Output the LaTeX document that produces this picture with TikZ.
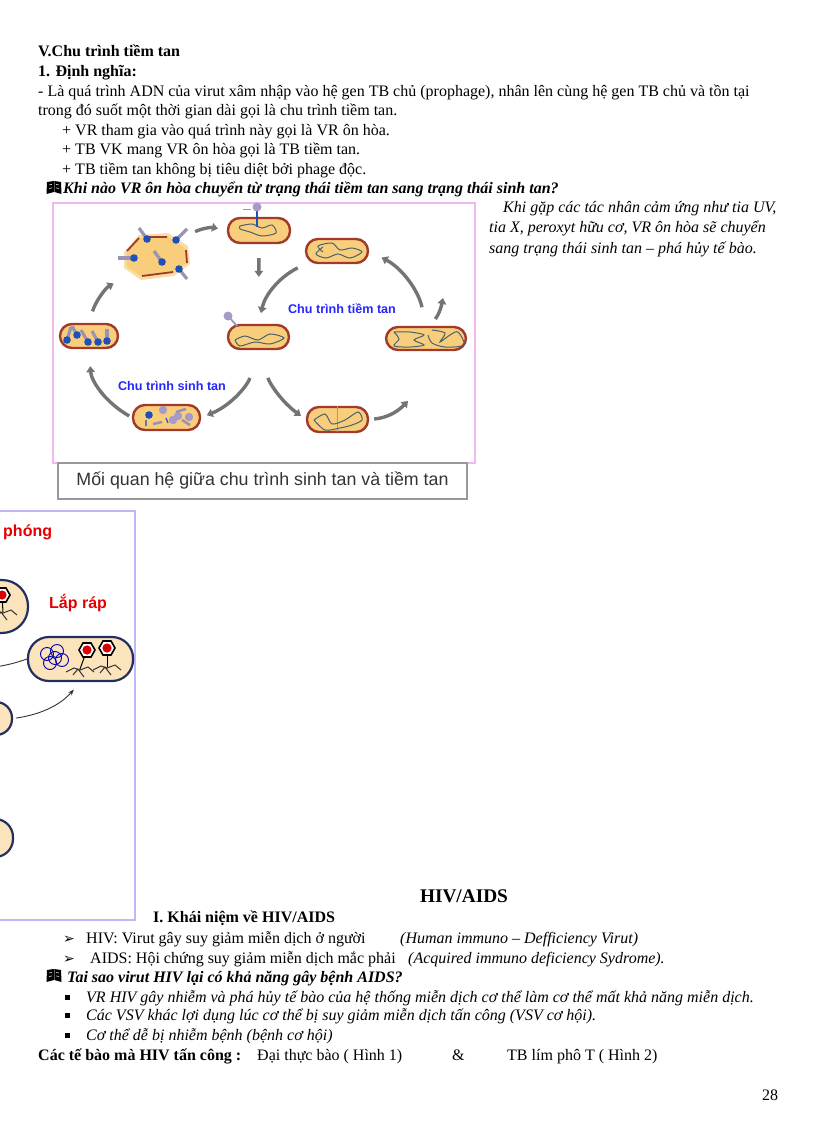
\documentclass[tikz,border=0pt]{standalone}
\usepackage{fontspec}
\setmainfont{Liberation Serif}
\newfontfamily\arialfont{Liberation Sans}
\newfontfamily\dejavufont{DejaVu Sans}
\usetikzlibrary{arrows.meta}
\definecolor{cellfill}{HTML}{F8CE7C}
\definecolor{cellred}{HTML}{A23A2A}
\definecolor{arrowgray}{HTML}{737474}
\definecolor{stemgray}{HTML}{9A94B4}
\definecolor{headblue}{HTML}{1F4FB8}
\definecolor{headlilac}{HTML}{A89AC8}
\definecolor{paleskin}{HTML}{FBE3BC}
\definecolor{navyedge}{HTML}{23305F}
\definecolor{framepink}{HTML}{F0B8F0}
\definecolor{framelilac}{HTML}{BDB8F6}
\tikzset{
  txt/.style={anchor=base west,inner sep=0pt,font=\fontsize{16}{18}\selectfont},
  btxt/.style={txt,font=\fontsize{16}{18}\selectfont\bfseries},
  itxt/.style={txt,font=\fontsize{16}{18}\selectfont\itshape},
  bitxt/.style={txt,font=\fontsize{16}{18}\selectfont\bfseries\itshape},
  cell/.style={draw=cellred,fill=cellfill,line width=2.4pt,rounded corners=12pt,inner sep=0pt},
  bigcell/.style={draw=navyedge,fill=paleskin,line width=2.2pt,rounded corners=21pt,inner sep=0pt},
  dna/.style={draw=black!65!cyan,line width=1pt,smooth},
  cyc/.style={draw=arrowgray,line width=3.4pt,-{Triangle[length=6pt,width=8.5pt]}},
  figlabel/.style={inner sep=0pt,text=blue!85!white,font=\arialfont\fontsize{12.6}{14}\selectfont\bfseries},
  redlabel/.style={inner sep=0pt,text=red!90!black,font=\arialfont\fontsize{16}{18}\selectfont\bfseries}
}
\begin{document}
\begin{tikzpicture}[x=1pt,y=-1pt]
\useasboundingbox (0,0) rectangle (816,1123);
\fill[white] (0,0) rectangle (816,1123);
\clip (0,0) rectangle (816,1123);
% text above the figures
\node[btxt] (line1) at (38,57) {V.Chu trình tiềm tan};
\node[btxt] (line2) at (38,77) {1. Định nghĩa:};
\node[txt] (line3) at (38,97) {- Là quá trình ADN của virut xâm nhập vào hệ gen TB chủ (prophage), nhân lên cùng hệ gen TB chủ và tồn tại};
\node[txt] (line4) at (38,116) {trong đó suốt một thời gian dài gọi là chu trình tiềm tan.};
\node[txt] (line5) at (62,136) {+ VR tham gia vào quá trình này gọi là VR ôn hòa.};
\node[txt] (line6) at (62,155) {+ TB VK mang VR ôn hòa gọi là TB tiềm tan.};
\node[txt] (line7) at (62,175) {+ TB tiềm tan không bị tiêu diệt bởi phage độc.};
\node[bitxt] (line8) at (63,194) {Khi nào VR ôn hòa chuyển từ trạng thái tiềm tan sang trạng thái sinh tan?};
\node[itxt] (side1) at (503,213) {Khi gặp các tác nhân cảm ứng như tia UV,};
\node[itxt] (side2) at (489,233) {tia X, peroxyt hữu cơ, VR ôn hòa sẽ chuyển};
\node[itxt] (side3) at (489,253) {sang trạng thái sinh tan -- phá hủy tế bào.};
% open book marks
\foreach \bx/\by in {47/181,47/969}{
  \fill[black] (\bx,\by+1) -- (\bx+6.8,\by) -- (\bx+6.8,\by+11) -- (\bx-.5,\by+13) -- cycle;
  \fill[black] (\bx+14,\by+1) -- (\bx+7.4,\by) -- (\bx+7.4,\by+11) -- (\bx+14.5,\by+13) -- cycle;
  \draw[white,line width=.5pt] (\bx+2,\by+4) -- (\bx+5,\by+3.4) (\bx+2,\by+7.5) -- (\bx+5,\by+6.9)
    (\bx+12,\by+4) -- (\bx+9,\by+3.4) (\bx+12,\by+7.5) -- (\bx+9,\by+6.9);
}
% first figure
\draw[draw=framepink,line width=1.4pt] (53,203) rectangle (475,463);
\node[draw=black!40,line width=1.2pt,minimum width=409,minimum height=36,inner sep=0pt,font=\arialfont\fontsize{17.8}{21}\selectfont,text=black!80] (caption) at (262.5,481) {Mối quan hệ giữa chu trình sinh tan và tiềm tan};
\node[cell,minimum width=62,minimum height=25] (celltop) at (259,230.5) {};
\node[cell,minimum width=62,minimum height=24] (cellupper) at (337,251) {};
\node[cell,minimum width=80,minimum height=23] (celldouble) at (426,338.5) {};
\node[cell,minimum width=61,minimum height=24] (cellcenter) at (258.5,337) {};
\node[cell,minimum width=58,minimum height=24] (cellleft) at (89,336) {};
\node[cell,minimum width=67,minimum height=25] (cellbl) at (166.5,417.5) {};
\node[cell,minimum width=61,minimum height=25] (cellbr) at (337.5,419.5) {};
\node[minimum width=60,minimum height=40,inner sep=0pt] (burst) at (157,256) {};
\coordinate (freeup) at (443,298);
\coordinate (freeright) at (408,401);
% burst cell
\fill[cellfill!70!white] (124,252) -- (139,235) -- (168,233) -- (188,246) -- (190,264) -- (174,276) -- (141,280) -- (124,268) -- cycle;
\fill[cellfill] (127,251) -- (139,238) -- (167,236) -- (185,248) -- (187,263) -- (173,273) -- (142,277) -- (127,267) -- cycle;
\draw[cellred,line width=1.8pt] (127,251) -- (139,238) (147,237) -- (167,237) (186,250) -- (187,263) (173,272) -- (142,276);
% phages in the burst and the crowded cell
\foreach \ax/\ay/\bx/\by in {147/239/139/228,176/240/187/229,134/258/118/258,162/262/154/251,179/269/187/279,
  67/340/71/327,77/335/72/326,88/342/81/330,98/342/92/331,107/341/107/329}{
  \draw[stemgray,line width=3.2pt] (\ax,\ay) -- (\bx,\by);
  \fill[headblue] (\ax,\ay) circle (3.8pt);
}
% phages at the two cells
\draw[headblue,line width=1.4pt] (257,207) -- (257,227);
\draw[stemgray,line width=.8pt] (243,209) -- (251,209);
\fill[headlilac] (257,207) circle (4.5pt);
\draw[stemgray,line width=1.8pt] (228,316) -- (237,326);
\fill[headlilac] (228,316) circle (4.5pt);
% bacterial chromosomes
\draw[dna] plot coordinates {(240,226) (252,224) (262,228) (272,225) (276,233) (262,236) (250,232) (240,229) (240,226)};
\draw[dna] plot coordinates {(323,252) (318,246) (332,243) (340,250) (352,248) (362,252) (350,258) (338,254) (326,258) (316,254) (323,247)};
\draw[dna] plot coordinates {(394,332) (410,332) (424,335) (414,340) (424,345) (410,347) (394,346) (399,339) (394,332)};
\draw[dna] plot coordinates {(432,330) (445,333) (440,342) (450,335) (458,332) (464,345) (445,347) (432,343) (428,335)};
\draw[dna] plot coordinates {(235,340) (245,336) (258,340) (270,334) (284,338) (270,344) (255,342) (240,346) (235,340)};
\draw[cellred!30!cellfill!90!black,line width=.6pt] (337,406) -- (337,432);
\draw[dna] plot coordinates {(314,420) (325,414) (332,424) (345,420) (358,412) (362,420) (352,425) (340,428) (325,430) (314,420)};
\foreach \hx/\hy in {163/410,173/420,189/417,178/416}{
  \fill[headlilac] (\hx,\hy) circle (4.2pt);
}
\fill[headblue] (149,415) circle (3.8pt);
\draw[stemgray,line width=2.6pt] (176,412) -- (186,409) (182,420) -- (190,425) (153,424) -- (162,422);
\draw[headblue,line width=1.2pt] (146,420) -- (146,426) (166,418) -- (168,423);
% cycle arrows
\draw[cyc,shorten <=9pt,shorten >=9pt] (burst.north east) to[bend left=20] (celltop.west);
\draw[cyc,shorten <=14pt,shorten >=47pt] (celltop.south) -- (cellcenter.north);
\draw[cyc,shorten <=8pt,shorten >=11pt] (cellupper.south west) to[bend right=25] (cellcenter.north);
\draw[cyc,shorten <=19pt,shorten >=14pt] (celldouble.north) to[bend right=25] (cellupper.east);
\draw[cyc,shorten <=9pt] (celldouble.75) to[bend right=15] (freeup);
\draw[cyc,shorten <=5pt] (cellbr.east) to[bend right=20] (freeright);
\draw[cyc,shorten <=28pt,shorten >=6pt] (cellcenter.-70) to[bend right=22] (cellbr.west);
\draw[cyc,shorten <=28pt,shorten >=6pt] (cellcenter.-110) to[bend left=30] (cellbl.east);
\draw[cyc,shorten <=3pt,shorten >=17pt] (cellbl.west) to[bend left=28] (cellleft.south);
\draw[cyc,shorten <=12pt,shorten >=15pt] (cellleft.north) to[bend left=22] (burst.south west);
\node[figlabel] (labellatent) at (342,309) {Chu trình tiềm tan};
\node[figlabel] (labellytic) at (172,386) {Chu trình sinh tan};
% second figure, cut off by the page edge
\draw[draw=framelilac,line width=1.6pt] (-5,511) rectangle (135,920);
\node[redlabel,anchor=base west] (labelrelease) at (3,536) {phóng};
\node[redlabel,anchor=base west] (labelassembly) at (49,608) {Lắp ráp};
\node[bigcell,minimum width=105,minimum height=44] (cellbig) at (80.5,659) {};
\node[bigcell,minimum width=100,minimum height=53,rounded corners=26pt] (cellpartA) at (-22,606.5) {};
\node[bigcell,minimum width=100,minimum height=33,rounded corners=16pt] (cellpartB) at (-38,718.5) {};
\node[bigcell,minimum width=100,minimum height=38,rounded corners=18pt] (cellpartC) at (-37,838) {};
\coordinate (freeleft) at (-5,667);
\draw[black!80,line width=.9pt] (freeleft) to[bend right=5] (cellbig.west);
\draw[black!80,line width=.9pt,-{Stealth[length=6pt]},shorten <=3pt,shorten >=10pt] (cellpartB.east) to[bend right=20] (cellbig.south);
\foreach \rx/\ry in {47/654,57/651,62/660,50/663,55/658}{
  \draw[blue!70!black,line width=.9pt] (\rx,\ry) circle (6.5pt);
}
\foreach \hx/\hy/\tx/\ty in {87/650/80/669,107/648/107/667,2/595/3/612}{
  \draw[black,line width=1pt] (\hx,\hy) -- (\tx,\ty);
  \draw[black,line width=1.6pt,fill=white] (\hx-8,\hy) -- (\hx-4,\hy-7) -- (\hx+4,\hy-7) -- (\hx+8,\hy) -- (\hx+4,\hy+7) -- (\hx-4,\hy+7) -- cycle;
  \fill[red!85!black] (\hx,\hy) circle (4.6pt);
  \draw[black!80,line width=1pt] (\tx-14,\ty+3) -- (\tx-6,\ty-1) -- (\tx,\ty+1) -- (\tx+8,\ty-2) -- (\tx+14,\ty+3)
    (\tx-7,\ty+6) -- (\tx-2,\ty) -- (\tx+4,\ty+8);
}
% text below the figures
\node[btxt,anchor=base,font=\fontsize{19.3}{22}\selectfont\bfseries] (hivtitle) at (464,902) {HIV/AIDS};
\node[btxt] (hiv1) at (153,922) {I. Khái niệm về HIV/AIDS};
\node[txt,font=\dejavufont\fontsize{14}{16}\selectfont] (arrowA) at (63,943) {➢};
\node[txt] (hiv2) at (86,943) {HIV: Virut gây suy giảm miễn dịch ở người};
\node[itxt] (hiv2b) at (400,943) {(Human immuno -- Defficiency Virut)};
\node[txt,font=\dejavufont\fontsize{14}{16}\selectfont] (arrowB) at (63,963) {➢};
\node[txt] (hiv3) at (90,963) {AIDS: Hội chứng suy giảm miễn dịch mắc phải};
\node[itxt] (hiv3b) at (408,963) {(Acquired immuno deficiency Sydrome).};
\node[bitxt] (hiv4) at (67,982) {Tai sao virut HIV lại có khả năng gây bệnh AIDS?};
\foreach \by in {997,1015,1035}{
  \fill[black] (65,\by-2.5) rectangle (70,\by+2.5);
}
\node[itxt] (hiv5) at (86,1002) {VR HIV gây nhiễm và phá hủy tế bào của hệ thống miễn dịch cơ thể làm cơ thể mất khả năng miễn dịch.};
\node[itxt] (hiv6) at (86,1020) {Các VSV khác lợi dụng lúc cơ thể bị suy giảm miễn dịch tấn công (VSV cơ hội).};
\node[itxt] (hiv7) at (86,1040) {Cơ thể dễ bị nhiễm bệnh (bệnh cơ hội)};
\node[btxt] (hiv8) at (38,1060) {Các tế bào mà HIV tấn công :};
\node[txt] (hiv8b) at (257,1060) {Đại thực bào ( Hình 1)};
\node[txt] (hiv8c) at (452,1060) {\&};
\node[txt] (hiv8d) at (507,1060) {TB lím phô T ( Hình 2)};
\node[txt] (pagenum) at (762,1100) {28};
\end{tikzpicture}
\end{document}
